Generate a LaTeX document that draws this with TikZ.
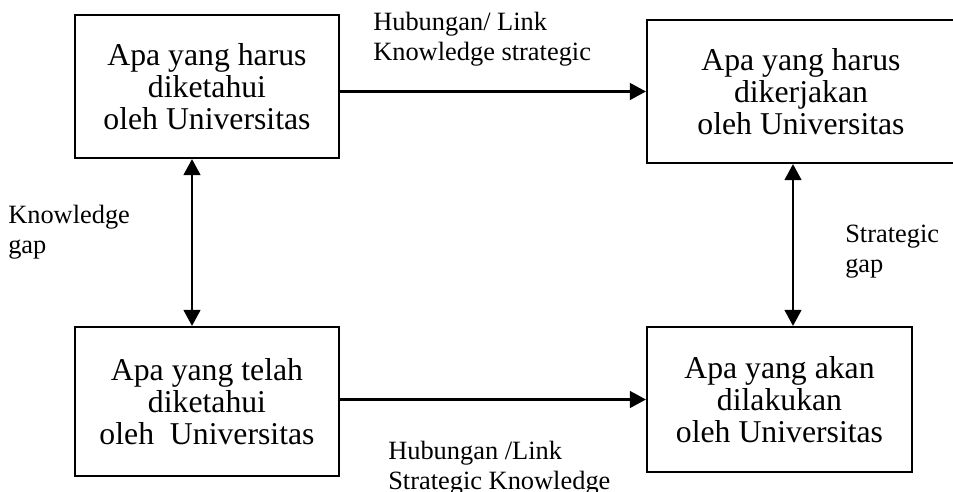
\documentclass[tikz,border=0pt]{standalone}
\usepackage{fontspec}
\setmainfont{Liberation Serif}
\usetikzlibrary{arrows.meta, positioning, calc}

\begin{document}
\begin{tikzpicture}[
    x=0.75pt, y=-0.75pt,
    >={Triangle[length=12pt,width=12.5pt]},
    base/.style={draw, align=center, line width=1.6pt, inner sep=0pt},
    box/.style={base, rectangle, minimum width=198pt, minimum height=107.25pt, font=\fontsize{23.8pt}{24pt}\selectfont},
    note/.style={align=left, inner sep=0pt, anchor=north west, font=\fontsize{19.8pt}{22.5pt}\selectfont},
    arrow/.style={->, line width=1.7pt},
    twoway/.style={<->, line width=1.7pt}
  ]
    \useasboundingbox (0,0) rectangle (953,492);
    \node[box] (knowShould) at (207,86.5)
    {Apa yang harus\\diketahui\\oleh Universitas};
    \node[box, minimum width=231pt] (doShould) at (801,91.5)
    {Apa yang harus\\dikerjakan\\oleh Universitas};
    \node[box, minimum height=111.75pt] (knowHave) at (207,401.5)
    {Apa yang telah\\diketahui\\oleh\ \ Universitas};
    \node[box, minimum width=198.75pt, minimum height=108.75pt] (doWill) at (779.5,399.5)
    {Apa yang akan\\dilakukan\\oleh Universitas};
    \node[note] (linkTop) at (373,12) {Hubungan/ Link\\Knowledge strategic};
    \node[note] (linkBottom) at (388,441) {Hubungan /Link\\Strategic Knowledge};
    \node[note] (knowGap) at (8,205) {Knowledge\\gap};
    \node[note] (stratGap) at (845,225) {Strategic\\gap};
    \coordinate (kgap) at (192,0);
    \coordinate (sgap) at (793,0);
    \draw[arrow] (knowShould.east |- doShould.west) -- (doShould.west);
    \draw[arrow] (knowHave.east |- doWill.west) -- (doWill.west);
    \draw[twoway] (knowShould.south -| kgap) -- (knowHave.north -| kgap);
    \draw[twoway] (doShould.south -| sgap) -- (doWill.north -| sgap);
  \end{tikzpicture}
\end{document}
